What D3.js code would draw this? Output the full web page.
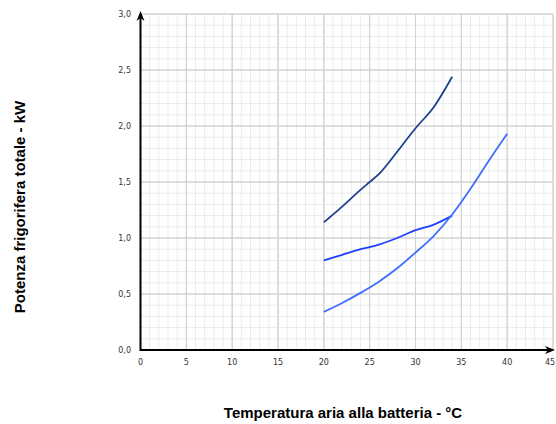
<!DOCTYPE html>
<html><head><meta charset="utf-8">
<script src="https://cdn.jsdelivr.net/npm/d3@7"></script>
<style>body{margin:0;background:#fff}svg{display:block}</style>
</head><body><svg id="c" width="556" height="424"></svg>
<script>
const xTicks = [0,5,10,15,20,25,30,35,40,45];
const yTicks = [0,0.5,1.0,1.5,2.0,2.5,3.0];
const xDark = [20,22,24,25,26,28,30,32,34];
const yDark = [1.14,1.28,1.43,1.50,1.57,1.77,1.98,2.17,2.44];
const xMid = [20,22,24,26,28,30,32,34];
const yMid = [0.80,0.85,0.90,0.94,1.00,1.07,1.12,1.20];
const xLight = [20,22,24,26,28,30,32,34,36,38,40];
const yLight = [0.34,0.42,0.51,0.61,0.73,0.87,1.02,1.21,1.44,1.69,1.93];
const seriesColors = ["#1f3f8f","#1f40ff","#3f6fff"];
const xTitle = "Temperatura aria alla batteria - °C";
const yTitle = "Potenza frigorifera totale - kW";

const svg = d3.select("#c");
const x = d3.scaleLinear().domain([0,45]).range([140.5,553]);
const y = d3.scaleLinear().domain([0,3]).range([350,14]);

// grid
const g = svg.append("g");
g.selectAll(".vmin").data(d3.range(0,46,1)).join("line")
  .attr("x1",d=>x(d)).attr("x2",d=>x(d)).attr("y1",y(0)).attr("y2",y(3))
  .attr("stroke",d=>d%5===0?"#d2d2d2":"#ececec").attr("stroke-width",1);
g.selectAll(".hmin").data(d3.range(0,31,1)).join("line")
  .attr("y1",d=>y(d/10)).attr("y2",d=>y(d/10)).attr("x1",x(0)).attr("x2",x(45))
  .attr("stroke",d=>d%5===0?"#d2d2d2":"#ececec").attr("stroke-width",1);
g.selectAll(".vmaj").data(xTicks).join("line")
  .attr("x1",d=>x(d)).attr("x2",d=>x(d)).attr("y1",y(0)).attr("y2",y(3))
  .attr("stroke","#d2d2d2");
g.selectAll(".hmaj").data(yTicks).join("line")
  .attr("y1",d=>y(d)).attr("y2",d=>y(d)).attr("x1",x(0)).attr("x2",x(45))
  .attr("stroke","#d2d2d2");

// lines
const sets = [[xDark,yDark],[xMid,yMid],[xLight,yLight]];
const line = d3.line().x(d=>x(d[0])).y(d=>y(d[1])).curve(d3.curveMonotoneX);
sets.forEach((s,i)=>{
  svg.append("path").datum(s[0].map((v,j)=>[v,s[1][j]]))
    .attr("d",line).attr("fill","none").attr("stroke",seriesColors[i]).attr("stroke-width",1.8);
});

// axes
svg.append("line").attr("x1",x(0)).attr("x2",x(45)-4).attr("y1",y(0)).attr("y2",y(0)).attr("stroke","#000").attr("stroke-width",2);
svg.append("line").attr("x1",x(0)).attr("x2",x(0)).attr("y1",y(0)+1).attr("y2",y(3)+2).attr("stroke","#000").attr("stroke-width",2);
svg.append("path").attr("d",`M${x(45)+2},${y(0)} L${x(45)-8},${y(0)-4} L${x(45)-5},${y(0)} L${x(45)-8},${y(0)+4}Z`).attr("fill","#000");
svg.append("path").attr("d",`M${x(0)},${y(3)-3} L${x(0)-4},${y(3)+7} L${x(0)},${y(3)+4} L${x(0)+4},${y(3)+7}Z`).attr("fill","#000");

// tick labels
const fmt = d3.format(".1f");
svg.selectAll(".yl").data(yTicks).join("text")
  .attr("x",131).attr("y",d=>y(d)+3).attr("text-anchor","end")
  .attr("font-family","DejaVu Sans, Verdana, sans-serif").attr("font-size",8).attr("fill","#333")
  .text(d=>fmt(d).replace(".",","));
svg.selectAll(".xl").data(xTicks).join("text")
  .attr("x",d=>Math.min(x(d),550)).attr("y",365).attr("text-anchor","middle")
  .attr("font-family","DejaVu Sans, Verdana, sans-serif").attr("font-size",8).attr("fill","#333")
  .text(d=>d);

// titles
svg.append("text").attr("x",343).attr("y",418).attr("text-anchor","middle")
  .attr("font-family","Liberation Sans, Arial, sans-serif").attr("font-weight","bold").attr("font-size",15).attr("fill","#000")
  .text(xTitle);
svg.append("text").attr("transform","translate(25,207) rotate(-90)").attr("text-anchor","middle")
  .attr("font-family","Liberation Sans, Arial, sans-serif").attr("font-weight","bold").attr("font-size",15).attr("fill","#000")
  .text(yTitle);
</script></body></html>
